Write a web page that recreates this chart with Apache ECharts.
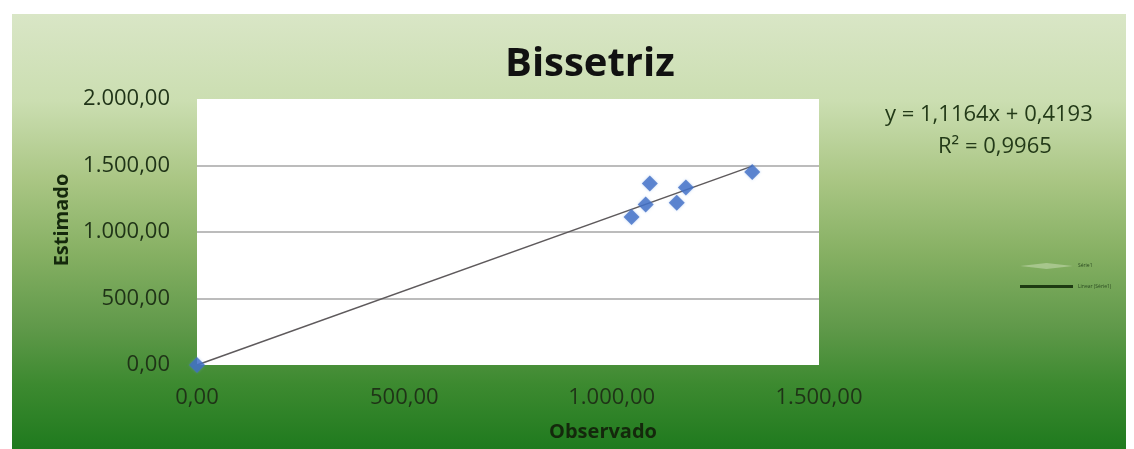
<!DOCTYPE html>
<html>
<head>
<meta charset="utf-8">
<script src="https://cdn.jsdelivr.net/npm/echarts@6/dist/echarts.min.js"></script>
<style>
  html, body { margin: 0; padding: 0; background: #ffffff; }
  #bg {
    position: absolute; left: 12px; top: 14px; width: 1114px; height: 435px;
    background: linear-gradient(to bottom, #d9e6c6 0%, #cbdeb1 20%, #aac684 38%, #86b063 55%, #60994a 72%, #3d8a30 85%, #1f7a1e 100%);
  }
  #chart { position: absolute; left: 0; top: 0; width: 1134px; height: 449px; }
</style>
</head>
<body>
<div id="bg"></div>
<div id="chart"></div>
<script>
// dados
const observado = [0, 1048, 1082, 1092, 1157, 1179, 1339];
const estimado = [0, 1113, 1207, 1365, 1219, 1335, 1452];
// linha de tendencia (equacao mostrada no grafico)
const slope = 1.1164;
const intercept = 0.4193;
const equacao = "y = 1,1164x + 0,4193";
const r2 = "R² = 0,9965";

// formato pt-BR: 1.500,00
function fmt(v) {
  const parts = v.toFixed(2).split(".");
  parts[0] = parts[0].replace(/\B(?=(\d{3})+(?!\d))/g, ".");
  return parts[0] + "," + parts[1];
}

const pontos = observado.map((x, i) => [x, estimado[i]]);
const xMax = Math.max(...observado);
const tendencia = [
  [0, intercept],
  [xMax, slope * xMax + intercept],
];

const txt = "#1f3317";
var myChart = echarts.init(document.getElementById("chart"));
myChart.setOption({
  animation: false,
  title: {
    text: "Bissetriz",
    left: 500,
    top: 40,
    textStyle: { fontFamily: "Open Sans", fontWeight: "bold", fontSize: 40, color: "#111" },
  },
  legend: {
    orient: "vertical",
    left: 1015,
    top: 258,
    itemWidth: 53,
    itemHeight: 6,
    itemGap: 15,
    textStyle: { fontSize: 5, color: "#2a4a20", fontFamily: "Open Sans" },
    data: [
      { name: "Série1", icon: "diamond", itemStyle: { color: "rgba(210,225,190,0.6)", shadowBlur: 0 } },
      {
        name: "Linear (Série1)",
        icon: "path://M0,0 L53,0 L53,3 L0,3 Z",
        itemStyle: { color: "#1d3a12" },
      },
    ],
  },
  grid: {
    left: 197,
    right: 315,
    top: 99,
    bottom: 84,
    show: true,
    backgroundColor: "#ffffff",
    borderWidth: 0,
    outerBoundsMode: "none",
  },
  xAxis: {
    type: "value",
    min: 0,
    max: 1500,
    interval: 500,
    name: "Observado",
    nameLocation: "middle",
    nameGap: 57,
    nameTextStyle: {
      fontFamily: "Open Sans", fontWeight: "bold", fontSize: 20, color: "#14280c",
      padding: [0, 0, 0, 190],
    },
    axisLine: { show: false },
    axisTick: { show: false },
    splitLine: { show: false },
    axisLabel: {
      margin: 22,
      formatter: fmt,
      fontFamily: "Open Sans", fontSize: 22, color: txt,
    },
  },
  yAxis: {
    type: "value",
    min: 0,
    max: 2000,
    interval: 500,
    name: "Estimado",
    nameLocation: "middle",
    nameGap: 124,
    nameTextStyle: {
      fontFamily: "Open Sans", fontWeight: "bold", fontSize: 20, color: "#14280c",
      padding: [0, 0, 0, 24],
    },
    axisLine: { show: false },
    axisTick: { show: false },
    splitLine: {
      show: true,
      lineStyle: {
        color: ["rgba(0,0,0,0)", "#a6a6a6", "#a6a6a6", "#a6a6a6", "rgba(0,0,0,0)"],
        width: 1.5,
      },
    },
    axisLabel: {
      margin: 27,
      formatter: fmt,
      fontFamily: "Open Sans", fontSize: 22, color: txt,
    },
  },
  graphic: [
    {
      type: "text",
      left: 885,
      top: 104,
      style: { text: equacao, font: "22px 'Open Sans'", fill: "#233a18" },
    },
    {
      type: "text",
      left: 938,
      top: 136,
      style: { text: r2, font: "22px 'Open Sans'", fill: "#233a18" },
    },
  ],
  series: [
    {
      name: "Linear (Série1)",
      type: "line",
      data: tendencia,
      symbol: "none",
      lineStyle: { color: "#5e5a5c", width: 1.5 },
      z: 2,
    },
    {
      name: "Série1",
      type: "scatter",
      data: pontos,
      symbol: "diamond",
      symbolSize: [16, 16],
      itemStyle: {
        color: "#3f6dc4",
        shadowBlur: 3,
        shadowColor: "rgba(110,160,235,0.5)",
      },
      z: 3,
    },
  ],
});
</script>
</body>
</html>
